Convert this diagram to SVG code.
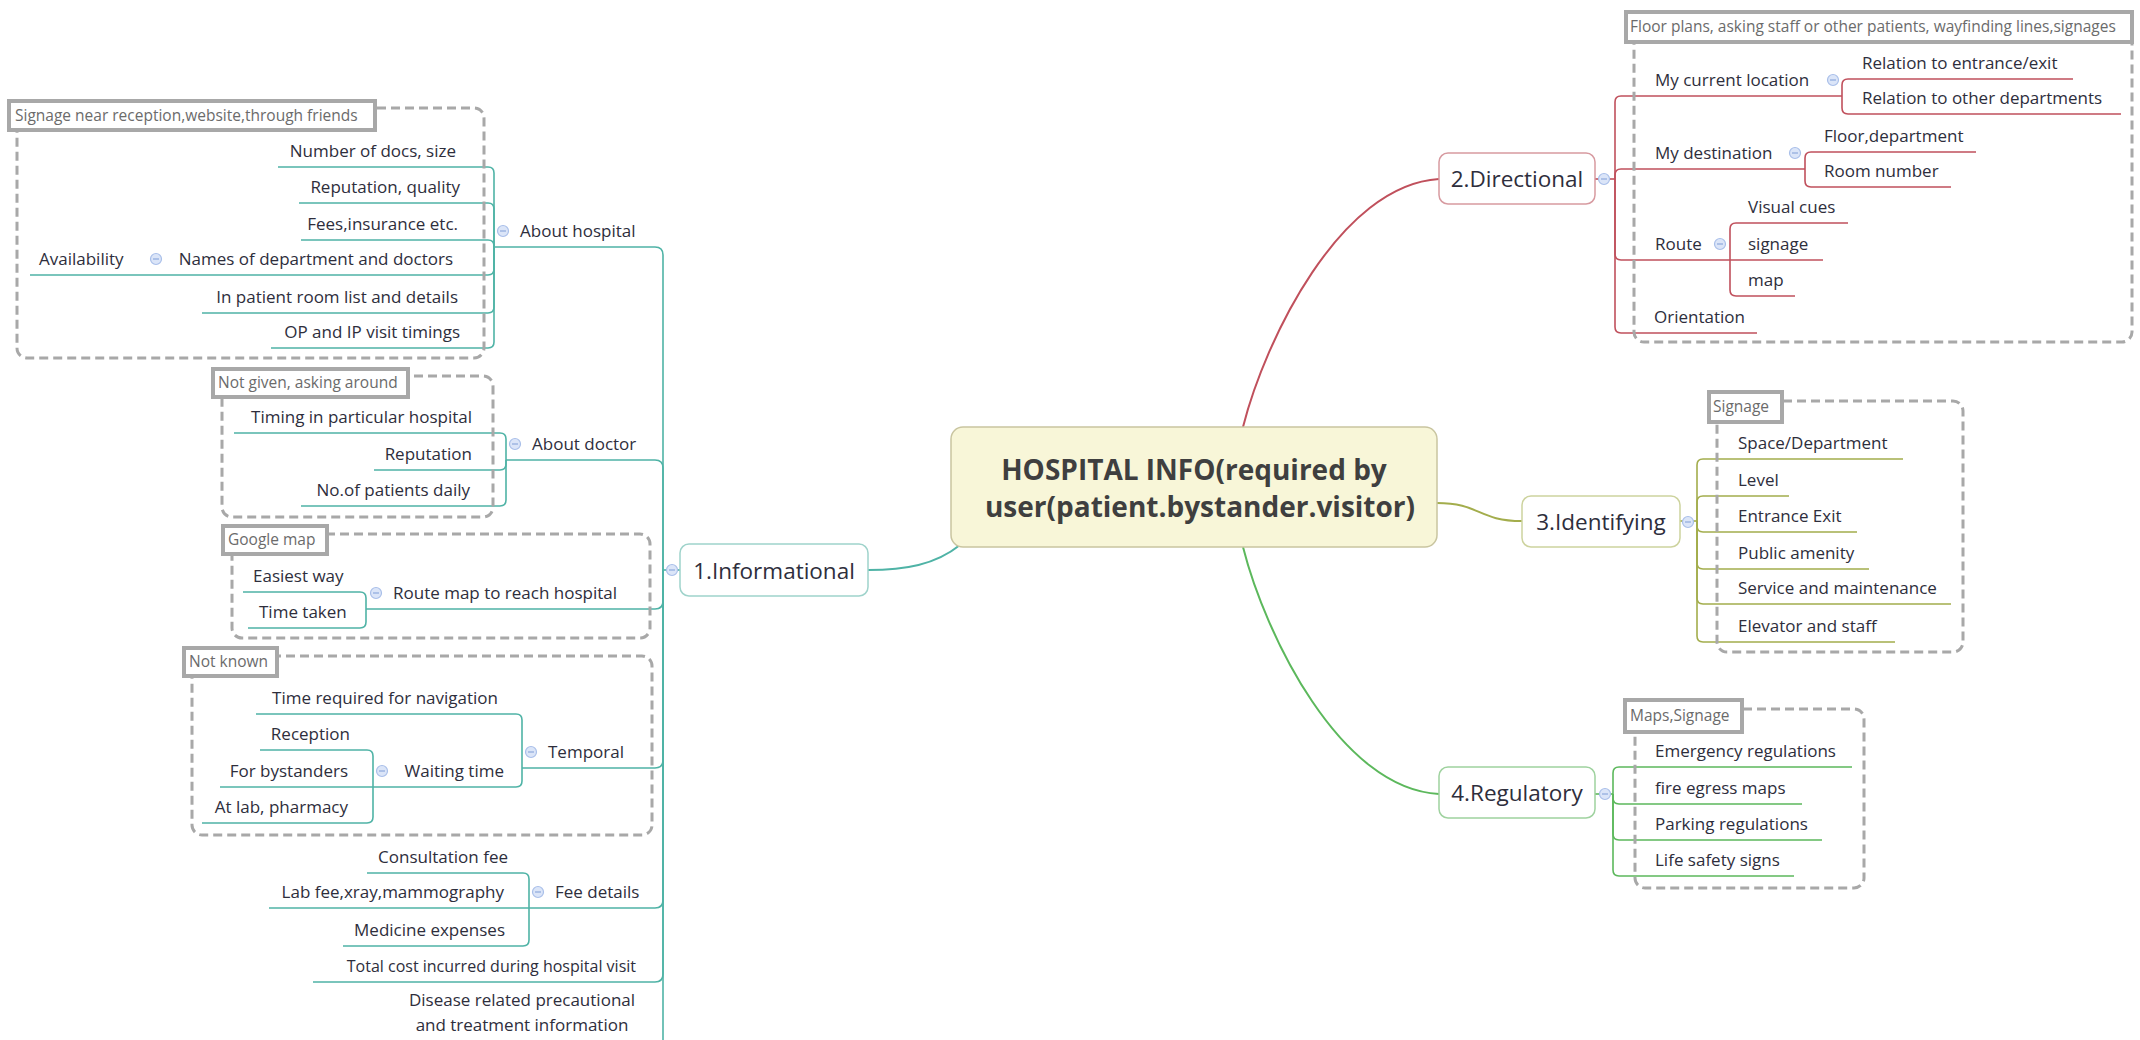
<svg xmlns="http://www.w3.org/2000/svg" xmlns:xlink="http://www.w3.org/1999/xlink" width="2140" height="1040" viewBox="0 0 2140 1040">
<style>
.t{font-family:"Open Sans","Noto Sans",sans-serif;font-size:17px;fill:#2e2e3c}
.e{text-anchor:end}
.m{text-anchor:middle}
.big{font-size:22.5px}
.ctr{font-size:28px;font-weight:700;fill:#3f3f3f}
.lb{font-family:"Open Sans","Noto Sans",sans-serif;font-size:15.5px;fill:#6b6b6b}
.lbox{fill:#fff;stroke:#a8a8a8;stroke-width:4}
.dash{fill:none;stroke:#a8a8a8;stroke-width:3;stroke-dasharray:9 5}
.ln{fill:none;stroke-width:1.6}
.inf{stroke:#4fb3a6}
.dir{stroke:#c0505c}
.idn{stroke:#a3ad4c}
.reg{stroke:#5cb85c}
.main{stroke-width:2}
</style>
<defs>
<g id="col"><circle r="5.5" fill="#dbe5f8" stroke="#a9bfe9" stroke-width="1.2"/><path d="M-3 0H3" stroke="#8ea8dd" stroke-width="1.2"/></g>
</defs>
<rect width="2140" height="1040" fill="#fff"/>

<g id="connectors">
<path class="ln inf main" d="M960 545 C935 565 905 570 868 570"/>
<path class="ln dir main" d="M1243 427 C1265 340 1340 185 1439 179"/>
<path class="ln idn main" d="M1437 503 C1480 503 1478 521 1522 521"/>
<path class="ln reg main" d="M1243 547 C1265 634 1340 789 1439 794"/>
<g class="ln inf">
<path d="M680 570 H663"/>
<path d="M663 570 V255 Q663 247 655 247 H494"/>
<path d="M663 570 V468 Q663 460 655 460 H506"/>
<path d="M663 570 V601 Q663 609 655 609 H366"/>
<path d="M663 570 V760 Q663 768 655 768 H522"/>
<path d="M663 570 V900 Q663 908 655 908 H529"/>
<path d="M663 570 V974 Q663 982 655 982 H313"/>
<path d="M663 570 V1040"/>
<path d="M494 247 V173 Q494 167 488 167 H278"/>
<path d="M494 247 V209 Q494 203 488 203 H299"/>
<path d="M494 247 V246 Q494 240 488 240 H301"/>
<path d="M494 247 V269 Q494 275 488 275 H30"/>
<path d="M494 247 V307 Q494 313 488 313 H202"/>
<path d="M494 247 V342 Q494 348 488 348 H271"/>
<path d="M506 460 V439 Q506 433 500 433 H234"/>
<path d="M506 460 V464 Q506 470 500 470 H374"/>
<path d="M506 460 V500 Q506 506 500 506 H301"/>
<path d="M366 609 V598 Q366 592 360 592 H243"/>
<path d="M366 609 V622 Q366 628 360 628 H248"/>
<path d="M522 768 V720 Q522 714 516 714 H256"/>
<path d="M522 768 V781 Q522 787 516 787 H373"/>
<path d="M373 787 V756 Q373 750 367 750 H260"/>
<path d="M373 787 H220"/>
<path d="M373 787 V817 Q373 823 367 823 H202"/>
<path d="M529 908 V879 Q529 873 523 873 H367"/>
<path d="M529 908 H269"/>
<path d="M529 908 V940 Q529 946 523 946 H343"/>
</g>
<g class="ln dir">
<path d="M1595 179 H1615"/>
<path d="M1615 179 V102 Q1615 96 1621 96 H1842"/>
<path d="M1615 179 V175 Q1615 169 1621 169 H1805"/>
<path d="M1615 179 V254 Q1615 260 1621 260 H1730"/>
<path d="M1615 179 V327 Q1615 333 1621 333 H1757"/>
<path d="M1842 96 V85 Q1842 79 1848 79 H2073"/>
<path d="M1842 96 V108 Q1842 114 1848 114 H2121"/>
<path d="M1805 169 V158 Q1805 152 1811 152 H1976"/>
<path d="M1805 169 V181 Q1805 187 1811 187 H1951"/>
<path d="M1730 260 V229 Q1730 223 1736 223 H1848"/>
<path d="M1730 260 H1823"/>
<path d="M1730 260 V290 Q1730 296 1736 296 H1795"/>
</g>
<g class="ln idn">
<path d="M1680 521 H1697"/>
<path d="M1697 521 V465 Q1697 459 1703 459 H1903"/>
<path d="M1697 521 V502 Q1697 496 1703 496 H1789"/>
<path d="M1697 521 V526 Q1697 532 1703 532 H1857"/>
<path d="M1697 521 V563 Q1697 569 1703 569 H1869"/>
<path d="M1697 521 V598 Q1697 604 1703 604 H1951"/>
<path d="M1697 521 V636 Q1697 642 1703 642 H1895"/>
</g>
<g class="ln reg">
<path d="M1595 794 H1613"/>
<path d="M1613 794 V773 Q1613 767 1619 767 H1852"/>
<path d="M1613 794 V798 Q1613 804 1619 804 H1802"/>
<path d="M1613 794 V834 Q1613 840 1619 840 H1822"/>
<path d="M1613 794 V870 Q1613 876 1619 876 H1794"/>
</g>
</g>

<g id="boundaries">
<rect class="dash" x="17" y="108" width="467" height="250" rx="10"/>
<rect class="dash" x="222" y="376" width="271" height="141" rx="10"/>
<rect class="dash" x="232" y="534" width="418" height="104" rx="10"/>
<rect class="dash" x="192" y="656" width="460" height="179" rx="10"/>
<rect class="dash" x="1634" y="16" width="498" height="326" rx="10"/>
<rect class="dash" x="1717" y="401" width="246" height="251" rx="10"/>
<rect class="dash" x="1635" y="709" width="229" height="179" rx="10"/>
<g id="label-signage-reception"><rect class="lbox" x="9" y="101" width="366" height="29"/><text class="lb" x="15" y="121">Signage near reception,website,through friends</text></g>
<g id="label-not-given"><rect class="lbox" x="213" y="369" width="195" height="28"/><text class="lb" x="218" y="388">Not given, asking around</text></g>
<g id="label-google-map"><rect class="lbox" x="223" y="526" width="104" height="28"/><text class="lb" x="228" y="545">Google map</text></g>
<g id="label-not-known"><rect class="lbox" x="184" y="648" width="93" height="28"/><text class="lb" x="189" y="667">Not known</text></g>
<g id="label-floor-plans"><rect class="lbox" x="1626" y="12" width="506" height="30"/><text class="lb" x="1630" y="32">Floor plans, asking staff or other patients, wayfinding lines,signages</text></g>
<g id="label-signage"><rect class="lbox" x="1709" y="392" width="73" height="30"/><text class="lb" x="1713" y="412">Signage</text></g>
<g id="label-maps-signage"><rect class="lbox" x="1625" y="700" width="117" height="32"/><text class="lb" x="1630" y="721">Maps,Signage</text></g>
</g>

<g id="n-central"><rect x="951" y="427" width="486" height="120" rx="12" fill="#f8f6d8" stroke="#c9c5a0" stroke-width="1.5"/><text class="t ctr m" x="1194" y="480">HOSPITAL INFO(required by</text><text class="t ctr m" x="1200" y="517">user(patient.bystander.visitor)</text></g>

<g id="n-informational"><rect x="680" y="544" width="188" height="52" rx="9" fill="#fff" stroke="#9fd3cb" stroke-width="1.5"/><text class="t big m" x="774" y="579">1.Informational</text><use href="#col" x="672" y="570"/></g>
<g id="n-about-hospital"><text class="t" x="520" y="237">About hospital</text><use href="#col" x="503" y="231"/></g>
<g id="n-number-docs"><text class="t e" x="456" y="157">Number of docs, size</text></g>
<g id="n-reputation-quality"><text class="t e" x="460" y="193">Reputation, quality</text></g>
<g id="n-fees"><text class="t e" x="458" y="230">Fees,insurance etc.</text></g>
<g id="n-names-dept"><text class="t e" x="453" y="265">Names of department and doctors</text><use href="#col" x="156" y="259"/></g>
<g id="n-availability"><text class="t" x="39" y="265">Availability</text></g>
<g id="n-inpatient"><text class="t e" x="458" y="303">In patient room list and details</text></g>
<g id="n-op-ip"><text class="t e" x="460" y="338">OP and IP visit timings</text></g>

<g id="n-about-doctor"><text class="t" x="532" y="450">About doctor</text><use href="#col" x="515" y="444"/></g>
<g id="n-timing"><text class="t e" x="472" y="423">Timing in particular hospital</text></g>
<g id="n-reputation"><text class="t e" x="472" y="460">Reputation</text></g>
<g id="n-patients-daily"><text class="t e" x="470" y="496">No.of patients daily</text></g>

<g id="n-route-map"><text class="t" x="393" y="599">Route map to reach hospital</text><use href="#col" x="376" y="593"/></g>
<g id="n-easiest"><text class="t" x="253" y="582">Easiest way</text></g>
<g id="n-time-taken"><text class="t" x="259" y="618">Time taken</text></g>

<g id="n-temporal"><text class="t" x="548" y="758">Temporal</text><use href="#col" x="531" y="752"/></g>
<g id="n-time-nav"><text class="t e" x="498" y="704">Time required for navigation</text></g>
<g id="n-waiting"><text class="t e" x="504" y="777">Waiting time</text><use href="#col" x="382" y="771"/></g>
<g id="n-reception"><text class="t e" x="350" y="740">Reception</text></g>
<g id="n-bystanders"><text class="t e" x="348" y="777">For bystanders</text></g>
<g id="n-lab-pharmacy"><text class="t e" x="348" y="813">At lab, pharmacy</text></g>

<g id="n-fee-details"><text class="t" x="555" y="898">Fee details</text><use href="#col" x="538" y="892"/></g>
<g id="n-consultation"><text class="t e" x="508" y="863">Consultation fee</text></g>
<g id="n-lab-fee"><text class="t e" x="504" y="898">Lab fee,xray,mammography</text></g>
<g id="n-medicine"><text class="t e" x="505" y="936">Medicine expenses</text></g>
<g id="n-total-cost"><text class="t e" x="636" y="972" style="font-size:16px">Total cost incurred during hospital visit</text></g>
<g id="n-disease"><text class="t m" x="522" y="1006">Disease related precautional</text><text class="t m" x="522" y="1031">and treatment information</text></g>

<g id="n-directional"><rect x="1439" y="153" width="156" height="51" rx="9" fill="#fff" stroke="#d79aa0" stroke-width="1.5"/><text class="t big m" x="1517" y="187">2.Directional</text><use href="#col" x="1604" y="179"/></g>
<g id="n-current-location"><text class="t" x="1655" y="86">My current location</text><use href="#col" x="1833" y="80"/></g>
<g id="n-rel-entrance"><text class="t" x="1862" y="69">Relation to entrance/exit</text></g>
<g id="n-rel-depts"><text class="t" x="1862" y="104">Relation to other departments</text></g>
<g id="n-destination"><text class="t" x="1655" y="159">My destination</text><use href="#col" x="1795" y="153"/></g>
<g id="n-floor-dept"><text class="t" x="1824" y="142">Floor,department</text></g>
<g id="n-room-number"><text class="t" x="1824" y="177">Room number</text></g>
<g id="n-route"><text class="t" x="1655" y="250">Route</text><use href="#col" x="1720" y="244"/></g>
<g id="n-visual-cues"><text class="t" x="1748" y="213">Visual cues</text></g>
<g id="n-signage-r"><text class="t" x="1748" y="250">signage</text></g>
<g id="n-map"><text class="t" x="1748" y="286">map</text></g>
<g id="n-orientation"><text class="t" x="1654" y="323">Orientation</text></g>

<g id="n-identifying"><rect x="1522" y="496" width="158" height="51" rx="9" fill="#fff" stroke="#cdd39e" stroke-width="1.5"/><text class="t big m" x="1601" y="530">3.Identifying</text><use href="#col" x="1688" y="522"/></g>
<g id="n-space-dept"><text class="t" x="1738" y="449">Space/Department</text></g>
<g id="n-level"><text class="t" x="1738" y="486">Level</text></g>
<g id="n-entrance-exit"><text class="t" x="1738" y="522">Entrance Exit</text></g>
<g id="n-public-amenity"><text class="t" x="1738" y="559">Public amenity</text></g>
<g id="n-service"><text class="t" x="1738" y="594">Service and maintenance</text></g>
<g id="n-elevator"><text class="t" x="1738" y="632">Elevator and staff</text></g>

<g id="n-regulatory"><rect x="1439" y="767" width="156" height="51" rx="9" fill="#fff" stroke="#9fd29f" stroke-width="1.5"/><text class="t big m" x="1517" y="801">4.Regulatory</text><use href="#col" x="1605" y="794"/></g>
<g id="n-emergency"><text class="t" x="1655" y="757">Emergency regulations</text></g>
<g id="n-fire-egress"><text class="t" x="1655" y="794">fire egress maps</text></g>
<g id="n-parking"><text class="t" x="1655" y="830">Parking regulations</text></g>
<g id="n-life-safety"><text class="t" x="1655" y="866">Life safety signs</text></g>
</svg>
